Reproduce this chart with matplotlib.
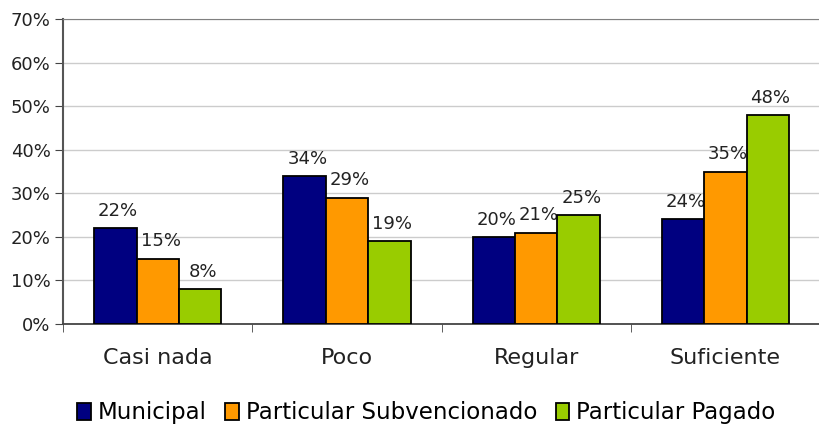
import matplotlib
matplotlib.use("Agg")
import matplotlib.pyplot as plt
import numpy as np
from matplotlib.ticker import FixedLocator
from matplotlib.patches import Patch

categories = ["Casi nada", "Poco", "Regular", "Suficiente"]
series_names = ["Municipal", "Particular Subvencionado", "Particular Pagado"]
municipal = [22, 34, 20, 24]
subvencionado = [15, 29, 21, 35]
pagado = [8, 19, 25, 48]
yticks = [0, 10, 20, 30, 40, 50, 60, 70]
colors = ["#000080", "#FF9900", "#99CC00"]

plt.rcParams['font.family'] = ['DejaVu Sans']

fig = plt.figure(figsize=(8.2, 4.32), dpi=100)
ax = fig.add_axes([0.077, 0.25, 0.923, 0.706])

x = np.arange(len(categories))
w = 0.224
data = [municipal, subvencionado, pagado]
for i, (vals, c) in enumerate(zip(data, colors)):
    pos = x + (i - 1) * w
    ax.bar(pos, vals, width=w, color=c, edgecolor="black", linewidth=1.3, zorder=3)
    for p, v in zip(pos, vals):
        ax.annotate(f"{v}%", (p, v), xytext=(2, 6), textcoords="offset points",
                    ha="center", va="bottom", fontsize=13, color="#222222")

ax.set_xlim(-0.5, len(categories) - 0.5)
ax.set_ylim(0, 70)
ax.set_yticks(yticks)
ax.set_yticklabels([f"{t}%" for t in yticks], fontsize=13, color="#222222")
ax.yaxis.grid(True, color="#cccccc", linewidth=1, zorder=0)
ax.set_axisbelow(True)

ax.set_xticks(x)
ax.set_xticklabels(categories, fontsize=16, color="#222222")
ax.tick_params(axis="x", length=0, pad=17)
ax.xaxis.set_minor_locator(FixedLocator(np.arange(len(categories) + 1) - 0.5))
ax.tick_params(axis="x", which="minor", length=6, color="#444444", direction="out")
ax.tick_params(axis="y", length=6, color="#444444", direction="out", pad=3)

ax.spines["right"].set_visible(False)
ax.spines["top"].set_color("#808080")
ax.spines["left"].set_color("#555555")
ax.spines["left"].set_linewidth(1.5)
ax.spines["bottom"].set_color("#444444")
ax.spines["bottom"].set_linewidth(1.3)

handles = [Patch(facecolor=c, edgecolor="black", linewidth=1.3) for c in colors]
fig.legend(handles, series_names, loc="lower center", bbox_to_anchor=(0.52, -0.03),
           ncol=3, frameon=False, fontsize=16.5, handlelength=0.6, handleheight=0.8,
           handletextpad=0.3, columnspacing=0.8)

fig.savefig("out.png", dpi=100)
